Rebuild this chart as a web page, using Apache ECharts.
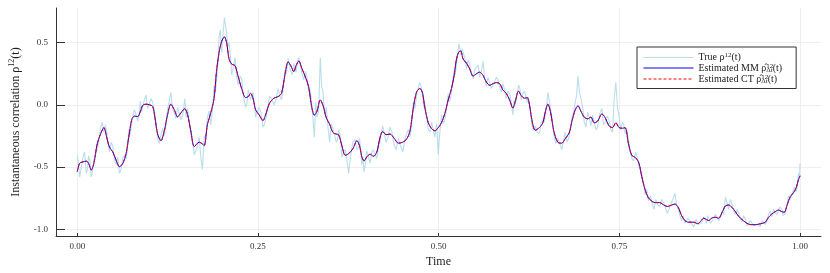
<!DOCTYPE html>
<html><head><meta charset="utf-8">
<script src="https://cdn.jsdelivr.net/npm/echarts@6/dist/echarts.min.js"></script>
<style>html,body{margin:0;padding:0;background:#fff}#c{width:830px;height:273px}</style>
</head><body><div id="c"></div>
<script>
const time = [0.0000,0.0033,0.0079,0.0124,0.0157,0.0193,0.0230,0.0276,0.0322,0.0368,
0.0413,0.0446,0.0492,0.0537,0.0584,0.0630,0.0675,0.0712,0.0754,0.0791,
0.0836,0.0874,0.0905,0.0951,0.0998,0.1043,0.1075,0.1112,0.1158,0.1204,
0.1250,0.1295,0.1342,0.1388,0.1433,0.1488,0.1525,0.1571,0.1620,0.1687,
0.1732,0.1756,0.1801,0.1847,0.1893,0.1925,0.1962,0.1998,0.2035,0.2067,
0.2100,0.2136,0.2183,0.2228,0.2274,0.2329,0.2366,0.2398,0.2431,0.2467,
0.2513,0.2569,0.2614,0.2660,0.2720,0.2779,0.2825,0.2872,0.2917,0.2954,
0.2996,0.3027,0.3065,0.3110,0.3156,0.3202,0.3238,0.3280,0.3317,0.3362,
0.3400,0.3445,0.3492,0.3537,0.3583,0.3616,0.3661,0.3707,0.3754,0.3813,
0.3868,0.3905,0.3937,0.3969,0.4006,0.4051,0.4098,0.4144,0.4189,0.4226,
0.4272,0.4327,0.4382,0.4443,0.4502,0.4557,0.4603,0.4649,0.4695,0.4740,
0.4778,0.4809,0.4856,0.4902,0.4947,0.4994,0.5039,0.5085,0.5132,0.5177,
0.5214,0.5246,0.5278,0.5305,0.5338,0.5384,0.5429,0.5476,0.5522,0.5567,
0.5614,0.5659,0.5705,0.5752,0.5797,0.5843,0.5890,0.5935,0.5981,0.6027,
0.6059,0.6105,0.6142,0.6187,0.6224,0.6256,0.6289,0.6335,0.6394,0.6441,
0.6477,0.6510,0.6545,0.6592,0.6647,0.6702,0.6748,0.6807,0.6844,0.6890,
0.6927,0.6968,0.7014,0.7061,0.7106,0.7152,0.7199,0.7258,0.7303,0.7358,
0.7405,0.7451,0.7496,0.7543,0.7579,0.7626,0.7671,0.7726,0.7772,0.7809,
0.7855,0.7901,0.7957,0.8002,0.8057,0.8116,0.8163,0.8222,0.8268,0.8315,
0.8360,0.8406,0.8453,0.8530,0.8585,0.8622,0.8668,0.8705,0.8736,0.8783,
0.8829,0.8874,0.8921,0.8967,0.9012,0.9059,0.9105,0.9150,0.9197,0.9242,
0.9288,0.9335,0.9380,0.9426,0.9472,0.9518,0.9563,0.9610,0.9655,0.9701,
0.9748,0.9780,0.9817,0.9862,0.9908,0.9945,0.9977,1.0000];

const estMM = [-0.536,-0.470,-0.458,-0.452,-0.470,-0.523,-0.470,-0.314,-0.235,-0.183,
-0.275,-0.340,-0.379,-0.444,-0.497,-0.471,-0.392,-0.261,-0.118,-0.091,
-0.094,-0.052,-0.005,0.005,0.000,-0.013,-0.104,-0.235,-0.288,-0.209,
-0.078,0.005,-0.039,-0.097,-0.065,-0.031,-0.078,-0.209,-0.335,-0.300,
-0.314,-0.327,-0.157,-0.065,0.053,0.262,0.419,0.510,0.545,0.497,
0.367,0.327,0.314,0.223,0.131,0.058,0.066,0.092,0.053,-0.039,
-0.078,-0.126,-0.065,0.013,0.053,0.066,0.092,0.236,0.345,0.314,
0.267,0.314,0.351,0.288,0.223,0.144,0.000,-0.083,-0.052,0.039,
-0.005,-0.104,-0.157,-0.222,-0.235,-0.240,-0.327,-0.405,-0.392,-0.353,
-0.288,-0.327,-0.418,-0.450,-0.418,-0.397,-0.413,-0.379,-0.261,-0.214,
-0.240,-0.235,-0.267,-0.308,-0.300,-0.275,-0.209,-0.026,0.105,0.131,
0.092,-0.026,-0.144,-0.191,-0.209,-0.183,-0.144,-0.070,0.039,0.131,
0.236,0.367,0.424,0.432,0.367,0.335,0.288,0.231,0.249,0.262,
0.236,0.183,0.157,0.170,0.178,0.170,0.118,0.092,0.039,-0.026,
0.026,0.110,0.074,0.053,0.058,0.000,-0.118,-0.204,-0.183,-0.144,
-0.052,0.005,-0.052,-0.209,-0.300,-0.308,-0.275,-0.222,-0.131,-0.039,
-0.008,-0.052,-0.099,-0.112,-0.099,-0.144,-0.131,-0.073,-0.104,-0.170,
-0.183,-0.144,-0.183,-0.188,-0.183,-0.314,-0.405,-0.426,-0.471,-0.575,
-0.680,-0.746,-0.777,-0.785,-0.785,-0.805,-0.816,-0.805,-0.797,-0.824,
-0.889,-0.929,-0.942,-0.942,-0.955,-0.936,-0.910,-0.921,-0.929,-0.907,
-0.903,-0.910,-0.863,-0.811,-0.805,-0.824,-0.858,-0.895,-0.921,-0.942,
-0.958,-0.962,-0.962,-0.958,-0.952,-0.942,-0.903,-0.876,-0.858,-0.845,
-0.858,-0.863,-0.811,-0.738,-0.706,-0.667,-0.601,-0.570];

// The CT estimate is visually indistinguishable from the MM estimate in the reference.
const estCT = [-0.536,-0.470,-0.458,-0.452,-0.470,-0.523,-0.470,-0.314,-0.235,-0.183,
-0.275,-0.340,-0.379,-0.444,-0.497,-0.471,-0.392,-0.261,-0.118,-0.091,
-0.094,-0.052,-0.005,0.005,0.000,-0.013,-0.104,-0.235,-0.288,-0.209,
-0.078,0.005,-0.039,-0.097,-0.065,-0.031,-0.078,-0.209,-0.335,-0.300,
-0.314,-0.327,-0.157,-0.065,0.053,0.262,0.419,0.510,0.545,0.497,
0.367,0.327,0.314,0.223,0.131,0.058,0.066,0.092,0.053,-0.039,
-0.078,-0.126,-0.065,0.013,0.053,0.066,0.092,0.236,0.345,0.314,
0.267,0.314,0.351,0.288,0.223,0.144,0.000,-0.083,-0.052,0.039,
-0.005,-0.104,-0.157,-0.222,-0.235,-0.240,-0.327,-0.405,-0.392,-0.353,
-0.288,-0.327,-0.418,-0.450,-0.418,-0.397,-0.413,-0.379,-0.261,-0.214,
-0.240,-0.235,-0.267,-0.308,-0.300,-0.275,-0.209,-0.026,0.105,0.131,
0.092,-0.026,-0.144,-0.191,-0.209,-0.183,-0.144,-0.070,0.039,0.131,
0.236,0.367,0.424,0.432,0.367,0.335,0.288,0.231,0.249,0.262,
0.236,0.183,0.157,0.170,0.178,0.170,0.118,0.092,0.039,-0.026,
0.026,0.110,0.074,0.053,0.058,0.000,-0.118,-0.204,-0.183,-0.144,
-0.052,0.005,-0.052,-0.209,-0.300,-0.308,-0.275,-0.222,-0.131,-0.039,
-0.008,-0.052,-0.099,-0.112,-0.099,-0.144,-0.131,-0.073,-0.104,-0.170,
-0.183,-0.144,-0.183,-0.188,-0.183,-0.314,-0.405,-0.426,-0.471,-0.575,
-0.680,-0.746,-0.777,-0.785,-0.785,-0.805,-0.816,-0.805,-0.797,-0.824,
-0.889,-0.929,-0.942,-0.942,-0.955,-0.936,-0.910,-0.921,-0.929,-0.907,
-0.903,-0.910,-0.863,-0.811,-0.805,-0.824,-0.858,-0.895,-0.921,-0.942,
-0.958,-0.962,-0.962,-0.958,-0.952,-0.942,-0.903,-0.876,-0.858,-0.845,
-0.858,-0.863,-0.811,-0.738,-0.706,-0.667,-0.601,-0.570];

// True correlation read at the same time points ...
const trueRho = [-0.40,-0.58,-0.42,-0.55,-0.41,-0.58,-0.44,-0.36,-0.19,-0.22,
-0.24,-0.38,-0.33,-0.48,-0.55,-0.43,-0.44,-0.20,-0.15,-0.04,
-0.13,0.03,-0.06,0.08,-0.04,0.02,-0.07,-0.27,-0.24,-0.25,
-0.03,0.10,-0.06,-0.02,-0.12,0.05,-0.03,-0.24,-0.40,-0.26,
-0.52,-0.25,-0.10,-0.16,0.15,0.18,0.55,0.42,0.70,0.58,
0.50,0.24,0.38,0.16,0.21,-0.02,0.12,0.04,0.10,-0.10,
-0.02,-0.18,-0.10,0.07,0.00,0.13,0.04,0.28,0.37,0.27,
0.33,0.26,0.38,0.25,0.27,0.10,0.05,-0.26,-0.10,0.38,
0.10,-0.02,-0.30,-0.16,-0.30,-0.20,-0.42,-0.36,-0.55,-0.30,
-0.36,-0.27,-0.48,-0.54,-0.37,-0.47,-0.36,-0.43,-0.30,-0.17,
-0.30,-0.18,-0.32,-0.27,-0.38,-0.23,-0.26,0.02,0.08,0.18,
0.06,0.01,-0.20,-0.14,-0.26,-0.40,-0.08,-0.12,0.09,0.10,
0.28,0.33,0.49,0.40,0.44,0.29,0.33,0.21,0.30,0.22,
0.35,0.15,0.21,0.12,0.22,0.14,0.17,0.05,0.09,-0.08,
0.00,0.16,0.04,0.11,0.02,0.05,-0.16,-0.17,-0.23,-0.12,
-0.08,0.10,-0.02,-0.24,-0.27,-0.36,-0.22,-0.25,-0.10,0.02,
0.23,0.05,-0.14,-0.06,-0.17,-0.09,-0.18,-0.03,-0.14,-0.12,
-0.22,0.18,-0.10,-0.14,-0.23,-0.28,-0.43,-0.38,-0.50,-0.55,
-0.72,-0.77,-0.80,-0.76,-0.82,-0.79,-0.87,-0.78,-0.71,-0.84,
-0.93,-0.95,-0.91,-0.98,-0.93,-0.97,-0.90,-0.95,-0.91,-0.94,
-0.88,-0.93,-0.85,-0.74,-0.84,-0.80,-0.88,-0.87,-0.94,-0.92,
-0.98,-0.94,-0.98,-0.95,-0.93,-0.96,-0.88,-0.90,-0.83,-0.87,
-0.84,-0.90,-0.80,-0.76,-0.68,-0.70,-0.55,-0.47];

// ... and halfway between consecutive time points (the true path is sampled finely).
const trueRhoMid = [-0.47,-0.50,-0.38,-0.52,-0.45,-0.53,-0.40,-0.30,-0.14,-0.16,
-0.32,-0.30,-0.44,-0.42,-0.52,-0.40,-0.37,-0.24,-0.08,-0.08,
-0.08,-0.06,0.04,-0.03,0.05,-0.02,-0.18,-0.31,-0.19,-0.16,
0.03,-0.04,-0.11,-0.02,-0.08,-0.10,-0.12,-0.30,-0.35,-0.42,
-0.38,-0.28,-0.05,-0.04,0.10,0.30,0.60,0.56,0.64,0.47,
0.40,0.30,0.22,0.23,0.06,0.01,0.11,0.08,0.02,-0.06,
-0.06,-0.15,-0.02,0.05,0.04,0.07,0.12,0.25,0.31,0.24,
0.30,0.35,0.31,0.20,0.22,0.12,-0.10,0.02,-0.05,0.15,
-0.08,-0.18,-0.15,-0.24,-0.28,-0.25,-0.38,-0.44,-0.40,-0.28,
-0.34,-0.36,-0.42,-0.47,-0.42,-0.38,-0.40,-0.34,-0.22,-0.24,
-0.26,-0.22,-0.36,-0.33,-0.29,-0.20,-0.17,-0.03,0.14,0.14,
-0.02,-0.08,-0.22,-0.20,-0.15,-0.22,-0.15,-0.03,0.03,0.20,
0.24,0.38,0.46,0.45,0.38,0.36,0.25,0.28,0.32,0.27,
0.21,0.22,0.13,0.19,0.20,0.10,0.12,0.11,0.02,0.04,
0.06,0.13,0.09,0.07,0.06,-0.08,-0.20,-0.22,-0.14,-0.14,
-0.01,0.04,-0.10,-0.31,-0.31,-0.30,-0.30,-0.18,-0.05,0.08,
0.10,-0.02,-0.18,-0.10,-0.08,-0.20,-0.07,-0.16,-0.09,-0.20,
0.05,-0.02,-0.20,-0.16,-0.20,-0.36,-0.45,-0.43,-0.50,-0.62,
-0.68,-0.73,-0.84,-0.80,-0.76,-0.78,-0.83,-0.75,-0.80,-0.89,
-0.89,-0.96,-0.95,-0.92,-0.96,-0.94,-0.92,-0.89,-0.95,-0.91,
-0.88,-0.90,-0.88,-0.79,-0.76,-0.86,-0.84,-0.92,-0.89,-0.97,
-0.93,-0.97,-0.96,-0.98,-0.92,-0.94,-0.85,-0.84,-0.88,-0.82,
-0.89,-0.87,-0.73,-0.73,-0.66,-0.66,-0.60];

const xTicks = [0, 0.25, 0.5, 0.75, 1.0];
const yTicks = [-1.0, -0.5, 0.0, 0.5];

const pair = (xs, ys) => xs.map((x, i) => [x, ys[i]]);
const truePath = [];
time.forEach((t, i) => {
  truePath.push([t, trueRho[i]]);
  if (i < trueRhoMid.length) truePath.push([(t + time[i + 1]) / 2, trueRhoMid[i]]);
});

const serif = '"Liberation Serif", "DejaVu Serif", serif';
const rich = {
  sup: { fontSize: 7, fontFamily: serif, verticalAlign: 'top', lineHeight: 11, color: '#222' },
  sub: { fontSize: 7, fontFamily: serif, verticalAlign: 'bottom', lineHeight: 11, color: '#222' },
  supz: { fontSize: 7, fontFamily: serif, verticalAlign: 'top', lineHeight: 11, width: 0, color: '#222' },
  n: { fontSize: 10, fontFamily: serif, lineHeight: 11, color: '#222' }
};
const legendText = {
  'True': '{n|True ρ}{sup|12}{n|(t)}',
  'Estimated MM': '{n|Estimated MM ρ̂}{supz|12}{sub|Δt}{n|(t)}',
  'Estimated CT': '{n|Estimated CT ρ̂}{supz|12}{sub|Δt}{n|(t)}'
};

const chart = echarts.init(document.getElementById('c'), null, { renderer: 'canvas' });
chart.setOption({
  animation: false,
  backgroundColor: '#fff',
  grid: { left: 53, right: 9, top: 8, bottom: 32, containLabel: false },
  legend: {
    orient: 'vertical',
    left: 637, top: 47,
    padding: [5, 14, 4, 6],
    itemWidth: 50, itemHeight: 8, itemGap: 0,
    borderColor: '#333', borderWidth: 1,
    backgroundColor: '#fff',
    itemStyle: { opacity: 0 },
    lineStyle: { width: 1 },
    textStyle: { fontFamily: serif, fontSize: 10, color: '#222', rich: rich },
    formatter: name => legendText[name],
    data: ['True', 'Estimated MM', 'Estimated CT']
  },
  xAxis: {
    type: 'value', min: -0.0294, max: 1.0289,
    name: 'Time', nameLocation: 'middle', nameGap: 20,
    nameTextStyle: { fontFamily: serif, fontSize: 12, color: '#222' },
    axisLine: { show: true, onZero: false, lineStyle: { color: '#333', width: 1 } },
    axisTick: { show: true, inside: true, length: 3, customValues: xTicks, lineStyle: { color: '#333' } },
    axisLabel: { customValues: xTicks, formatter: v => v.toFixed(2), fontFamily: serif, fontSize: 9, color: '#333', margin: 6 },
    splitLine: { show: true, lineStyle: { color: '#eeeeee', width: 1 } }
  },
  yAxis: {
    type: 'value', min: -1.053, max: 0.777,
    name: 'Instantaneous correlation {n|ρ}{sup|12}{n|(t)}', nameLocation: 'middle', nameGap: 33, nameRotate: 90,
    nameTextStyle: { fontFamily: serif, fontSize: 12, color: '#222',
      rich: { n: { fontSize: 12, fontFamily: serif, color: '#222', lineHeight: 15 },
              sup: { fontSize: 8, fontFamily: serif, color: '#222', verticalAlign: 'top', lineHeight: 15 } } },
    axisLine: { show: true, onZero: false, lineStyle: { color: '#333', width: 1 } },
    axisTick: { show: true, inside: true, length: 9, customValues: yTicks, lineStyle: { color: '#333' } },
    axisLabel: { customValues: yTicks, formatter: v => v.toFixed(1), fontFamily: serif, fontSize: 9, color: '#333', margin: 8 },
    splitLine: { show: true, lineStyle: { color: '#eeeeee', width: 1 } }
  },
  series: [
    { name: 'True', type: 'line', data: truePath, symbol: 'none', z: 1,
      lineStyle: { color: '#add8e6', width: 1.1, opacity: 0.85 }, itemStyle: { color: '#add8e6' } },
    { name: 'Estimated MM', type: 'line', data: pair(time, estMM), symbol: 'none', smooth: 0.3, z: 2,
      lineStyle: { color: '#0000ff', width: 1 }, itemStyle: { color: '#0000ff' } },
    { name: 'Estimated CT', type: 'line', data: pair(time, estCT), symbol: 'none', smooth: 0.3, z: 3,
      lineStyle: { color: '#ff0000', width: 1, type: [3, 2] }, itemStyle: { color: '#ff0000' } }
  ]
});
</script></body></html>
